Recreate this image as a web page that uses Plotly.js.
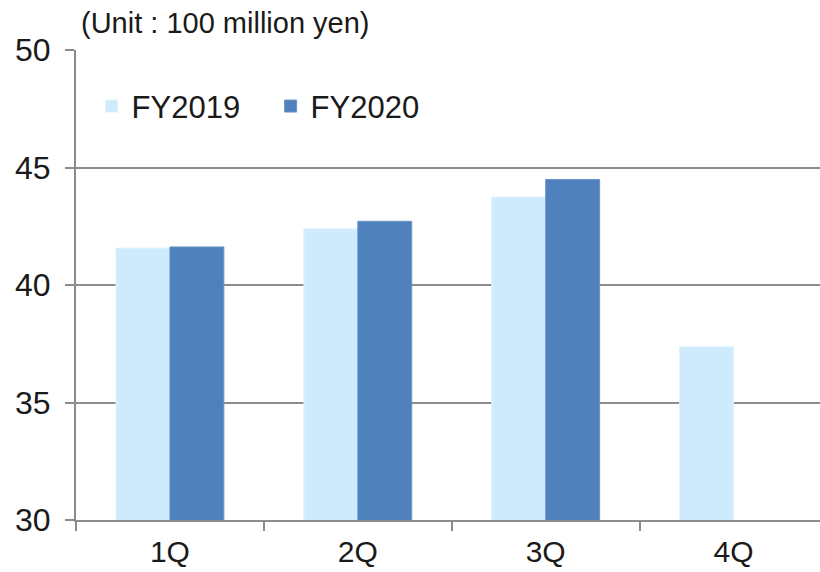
<!DOCTYPE html>
<html>
<head>
<meta charset="utf-8">
<script src="https://cdn.plot.ly/plotly-3.0.1.min.js"></script>
<style>html,body{margin:0;padding:0;background:#fff;}#chart{width:820px;height:572px;}</style>
</head>
<body>
<div id="chart"></div>
<script>
const quarters = ["1Q", "2Q", "3Q", "4Q"];
const fy2019 = [41.57, 42.39, 43.74, 37.37];
const fy2020 = [41.62, 42.71, 44.49, null];
const seriesNames = ["FY2019", "FY2020"];
const yTicks = [30, 35, 40, 45, 50];

const font = "Arial, 'Liberation Sans', sans-serif";
const gray = "#8c8c8c";

const traces = [
  {type: "bar", name: seriesNames[0], x: quarters, y: fy2019,
   marker: {color: "#cdebfc", line: {color: "#dff2fd", width: 1}}},
  {type: "bar", name: seriesNames[1], x: quarters, y: fy2020,
   marker: {color: "#4f81bd", line: {color: "#6a95c8", width: 1}}}
];

const layout = {
  width: 820, height: 572,
  margin: {l: 76, r: 0, t: 50, b: 52},
  paper_bgcolor: "#fff", plot_bgcolor: "#fff",
  font: {family: font, color: "#1a1a1a", size: 31},
  barmode: "group", bargap: 0.426, bargroupgap: 0,
  showlegend: true,
  legend: {orientation: "h", x: 0.021, y: 0.88, xanchor: "left", yanchor: "middle",
           font: {size: 31, family: font, color: "#1a1a1a"}, itemwidth: 30, tracegroupgap: 0,
           entrywidth: 134, entrywidthmode: "pixels",
           bgcolor: "rgba(0,0,0,0)"},
  xaxis: {type: "category", range: [-0.5, 3.46], showgrid: false,
          showline: true, linecolor: gray, linewidth: 2,
          ticks: "outside", tickson: "boundaries", ticklen: 9, tickwidth: 2, tickcolor: gray,
          tickfont: {size: 30, family: font, color: "#1a1a1a"}, ticklabelstandoff: 4},
  yaxis: {range: [30, 50], tickvals: yTicks, showgrid: true, gridcolor: gray, gridwidth: 2,
          showline: true, linecolor: gray, linewidth: 2, zeroline: false,
          ticks: "outside", ticklen: 9, tickwidth: 2, tickcolor: gray,
          tickfont: {size: 32, family: font, color: "#1a1a1a"}, ticklabelstandoff: 8},
  annotations: [{text: "(Unit : 100 million yen)", xref: "paper", yref: "paper",
                 x: 0, y: 1, xanchor: "left", yanchor: "bottom", xshift: 3, yshift: 9,
                 showarrow: false, font: {size: 29, family: font, color: "#1a1a1a"}}]
};

Plotly.newPlot("chart", traces, layout, {displayModeBar: false, staticPlot: true});
</script>
</body>
</html>
